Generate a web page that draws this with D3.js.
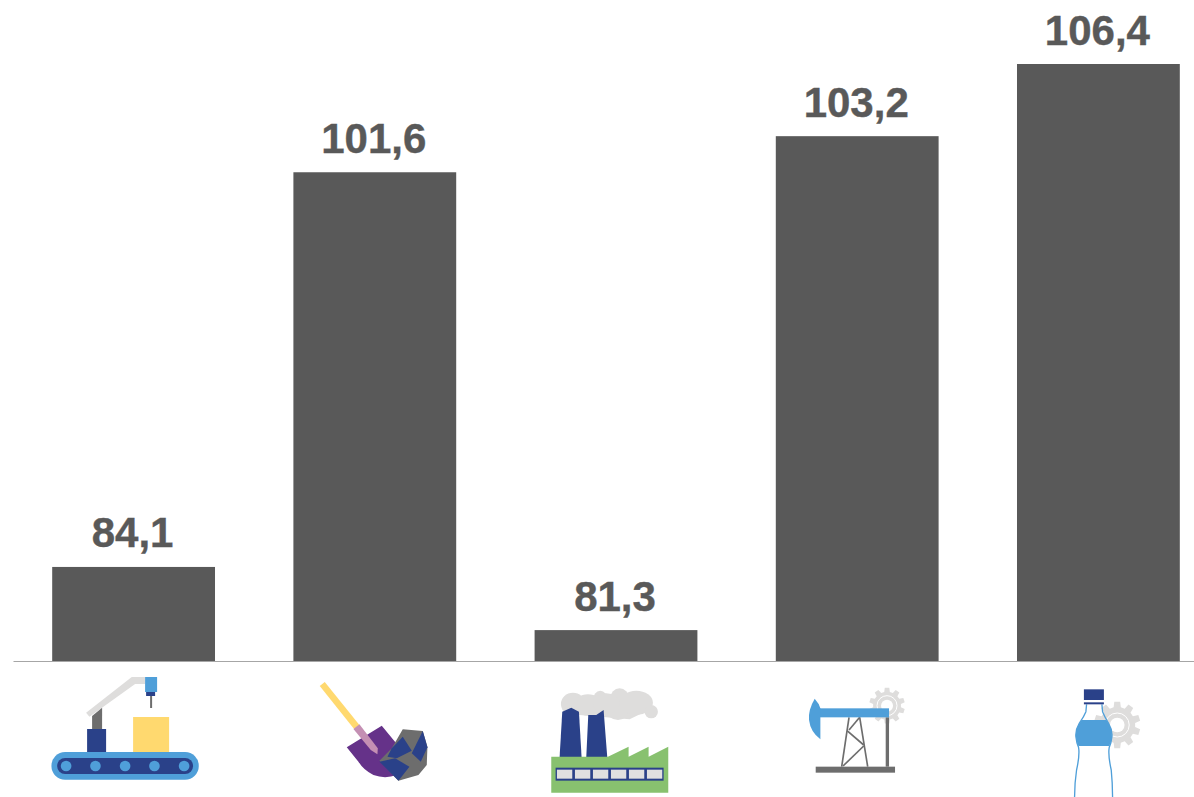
<!DOCTYPE html>
<html><head><meta charset="utf-8">
<script src="https://cdnjs.cloudflare.com/ajax/libs/d3/7.8.5/d3.min.js"></script>
<style>html,body{margin:0;padding:0;background:#fff;overflow:hidden}svg{display:block}</style>
</head><body><div id="chart"></div>
<script>
const categories = ["manufacturing","mining","energy","oil","water"];
const values = [84.1,101.6,81.3,103.2,106.4];
const valueLabels = ["84,1","101,6","81,3","103,2","106,4"];
const axisFloor = 79.93;

const W=1194,H=797;
const svg=d3.select("#chart").append("svg").attr("width",W).attr("height",H);
const x=d3.scaleBand().domain(categories).range([13,1219]).paddingInner(0.325).paddingOuter(0.1625);
const y=d3.scaleLinear().domain([axisFloor,106.4]).range([661,64]);

svg.selectAll("rect.bar").data(categories).join("rect").attr("class","bar")
  .attr("x",d=>x(d)).attr("width",x.bandwidth())
  .attr("y",(d,i)=>y(values[i])).attr("height",(d,i)=>y(axisFloor)-y(values[i]))
  .attr("fill","#595959");

const axis=svg.append("g").attr("transform",`translate(0,${y(axisFloor)})`)
  .call(d3.axisBottom(x).tickSize(0).tickFormat(""));
axis.select(".domain").attr("stroke","#a6a6a6").attr("stroke-width",1.2);

svg.selectAll("text.val").data(categories).join("text").attr("class","val")
  .attr("x",d=>x(d)+x.bandwidth()/2-1).attr("y",(d,i)=>y(values[i])-19.5)
  .attr("text-anchor","middle").attr("fill","#595959").attr("stroke","#595959").attr("stroke-width",0.4)
  .attr("font-family","'Liberation Sans',Arial,sans-serif").attr("font-weight",700).attr("font-size",42)
  .text((d,i)=>valueLabels[i]);

// Icons are sketched in 3x local units, anchored below each band
const BLUE="#4f9fd9",NAVY="#2a4189",GREY="#6d6d6d",LIGHT="#dedddc",YEL="#ffd96f";
function icon(cat,ox,oy){
  const cx=x(cat)+x.bandwidth()/2;
  return svg.append("g").attr("transform",`translate(${cx+ox},${oy}) scale(${1/3})`);
}
const R=(g,a,b,c,d,f,rx)=>g.append("rect").attr("x",a).attr("y",b).attr("width",c-a).attr("height",d-b).attr("fill",f).attr("rx",rx||0);
const P=(g,pts,f)=>g.append("polygon").attr("points",pts).attr("fill",f);
const C=(g,a,b,r,f)=>g.append("circle").attr("cx",a).attr("cy",b).attr("r",r).attr("fill",f);
function gear(g,cx,cy,ro,ri,n,hole,ring){
  let d="";
  const s=Math.PI*2/n;
  for(let i=0;i<n;i++){
    const a=i*s-Math.PI/2;
    const pts=[[ri,a-s*.32],[ro,a-s*.2],[ro,a+s*.2],[ri,a+s*.32]];
    pts.forEach((p,j)=>{d+=(i==0&&j==0?"M":"L")+(cx+p[0]*Math.cos(p[1])).toFixed(1)+","+(cy+p[0]*Math.sin(p[1])).toFixed(1);});
  }
  g.append("path").attr("d",d+"Z").attr("fill",LIGHT);
  g.append("circle").attr("cx",cx).attr("cy",cy).attr("r",ring).attr("fill","none").attr("stroke","#fff").attr("stroke-width",3);
  C(g,cx,cy,hole,"#fff");
}

// conveyor
let g=icon("manufacturing",-103.5,660);
P(g,"168,158 305,51 345,51 345,72 315,72 178,170",LIGHT);
P(g,"186,168 216,143 216,207 186,207",GREY);
R(g,171,207,228,276,NAVY);
R(g,309,171,417,276,YEL);
R(g,345,51,381,96,BLUE);
R(g,348,96,375,108,NAVY);
R(g,360,108,366,144,GREY);
R(g,64,276,506,359,BLUE,41);
R(g,81,294,489,342,NAVY,24);
[108,196,285,373,462].forEach(c=>C(g,c,318,16,BLUE));

// shovel and rock
g=icon("mining",-344.7,660);
P(g,"869,78 884,66 988,195 972,207",YEL);
g.append("path").attr("d","M950,262 L1055,197 L1097,248 L1100,345 Q1065,358 1030,345 Q1000,330 985,305 Z").attr("fill","#653289");
P(g,"970,207 988,193 1043,265 1042,283 1022,270",'#c48fb3');
P(g,"1048,302 1085,265 1118,208 1178,213 1192,260 1190,315 1165,345 1105,362",GREY);
P(g,"1085,265 1118,230 1145,272 1100,295 1072,290",NAVY);
P(g,"1178,213 1192,262 1172,305 1145,280",NAVY);
P(g,"1048,305 1095,295 1138,320 1105,362",NAVY);

// factory
g=icon("energy",-86.4,660);
P(g,"98,150 120,110 340,100 368,145 300,178 150,165",LIGHT);
[[130,132,36,34],[175,135,42,32],[212,122,22,30],[270,115,28,30],[265,150,35,30],[320,128,50,36],[365,155,20,20],[230,130,40,30]]
  .forEach(e=>g.append("ellipse").attr("cx",e[0]).attr("cy",e[1]).attr("rx",e[2]).attr("ry",e[3]).attr("fill",LIGHT));
P(g,"90,292 98,155 125,143 148,155 156,292",NAVY);
P(g,"170,292 176,165 200,165 222,150 233,292",NAVY);
P(g,"65,290 235,290 297,260 297,290 357,260 357,290 416,260 416,398 65,398","#88c16f");
R(g,78,323,402,362,NAVY);
[82,136,190,244,298,352].forEach(c=>R(g,c,329,c+46,356,"#e0e0e0"));

// pumpjack
g=icon("oil",-327.5,660);
gear(g,1072,137,54,42,10,18,30);
R(g,1068,172,1078,320,GREY);
const tower=[[936,320,958,172],[1014,320,990,172],[958,210,990,172],[952,212,1002,255],[1002,258,940,318]];
tower.forEach(t=>g.append("line").attr("x1",t[0]).attr("y1",t[1]).attr("x2",t[2]).attr("y2",t[3]).attr("stroke",GREY).attr("stroke-width",5));
R(g,858,320,1096,338,GREY);
R(g,868,145,1078,172,BLUE);
g.append("path").attr("d","M855,116 Q835,150 838,180 Q842,215 872,238 L872,145 Q868,130 855,116 Z").attr("fill",BLUE);

// bottle
g=icon("water",-58.5,670);
gear(g,232,165,70,54,10,22,36);
const left="M140,103 L138,125 Q132,140 118,160 Q106,180 108,200 Q110,220 116,232 Q120,255 110,300 Q104,340 104,381";
const right="M186,103 L188,125 Q194,140 206,160 Q218,180 216,200 Q214,220 208,232 Q204,255 214,300 Q218,340 218,381";
g.append("path").attr("d","M125,150 L199,150 Q218,175 216,200 Q214,218 208,228 L116,228 Q110,218 108,200 Q106,175 125,150 Z").attr("fill",BLUE);
g.append("path").attr("d","M140,103 L138,125 Q132,140 118,160 L206,160 Q194,140 188,125 L186,103 Z").attr("fill","#fff").attr("fill-opacity",0);
[left,right].forEach(d=>g.append("path").attr("d",d).attr("fill","none").attr("stroke",BLUE).attr("stroke-width",4));
R(g,132,58,192,90,NAVY);
R(g,132,97,192,103,NAVY);
</script></body></html>
